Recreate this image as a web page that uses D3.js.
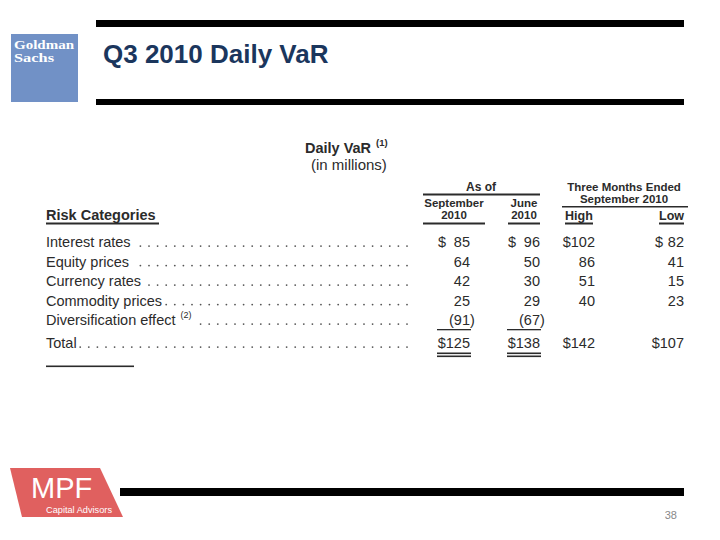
<!DOCTYPE html>
<html>
<head>
<meta charset="utf-8">
<script src="https://cdn.jsdelivr.net/npm/d3@7"></script>
<style>
html,body{margin:0;padding:0;background:#fff;}
svg{display:block;}
text{font-family:"Liberation Sans",Arial,Helvetica,sans-serif;}
</style>
</head>
<body>
<svg id="chart" width="720" height="540"></svg>
<script>
// ---- data ----
const title = "Q3 2010 Daily VaR";
const categories = ["Interest rates","Equity prices","Currency rates","Commodity prices","Diversification effect","Total"];
const footnoteMarks = [null,null,null,null,"(2)",null];
const seriesKeys = ["sep2010","jun2010","high","low"];
const sep2010 = [85,64,42,25,-91,125];
const jun2010 = [96,50,30,29,-67,138];
const high = [102,86,51,40,null,142];
const low = [82,41,15,23,null,107];
const pageNumber = "38";

const seriesValues = {sep2010, jun2010, high, low};

const svg = d3.select("#chart");
const ink = "#2b2b2b";

// ---- slide frame ----
svg.append("rect").attr("x",96).attr("y",20).attr("width",588).attr("height",7).attr("fill","#000");
svg.append("rect").attr("x",96).attr("y",99).attr("width",588).attr("height",6).attr("fill","#000");
svg.append("rect").attr("x",120).attr("y",488).attr("width",564).attr("height",8).attr("fill","#000");

// Goldman Sachs logo
svg.append("rect").attr("x",11).attr("y",34).attr("width",67).attr("height",68).attr("fill","#7191c6");
svg.append("text").attr("x",14).attr("y",48.5).attr("fill","#fff")
  .style("font-family","'Liberation Serif','DejaVu Serif',serif").style("font-weight","bold").style("font-size","13px")
  .attr("textLength",60).attr("lengthAdjust","spacingAndGlyphs").text("Goldman");
svg.append("text").attr("x",14).attr("y",62).attr("fill","#fff")
  .style("font-family","'Liberation Serif','DejaVu Serif',serif").style("font-weight","bold").style("font-size","12px")
  .attr("textLength",40).attr("lengthAdjust","spacingAndGlyphs").text("Sachs");

// title
svg.append("text").attr("x",103).attr("y",63).attr("fill","#1b365d")
  .style("font-weight","bold").style("font-size","26px").text(title);

// MPF logo
svg.append("path").attr("d","M10,468 L100,468 L123,517 L22,517 Z").attr("fill","#e0605f");
svg.append("text").attr("x",31).attr("y",498).attr("fill","#fff").style("font-size","29px").text("MPF");
svg.append("text").attr("x",46).attr("y",513).attr("fill","#fff").style("font-size","9px")
  .attr("textLength",66).attr("lengthAdjust","spacingAndGlyphs").text("Capital Advisors");

// page number
svg.append("text").attr("x",677).attr("y",519).attr("text-anchor","end").attr("fill","#888")
  .style("font-size","11px").text(pageNumber);

// ---- table header ----
const t = svg.append("g").attr("fill",ink);
t.append("text").attr("x",305).attr("y",153).style("font-weight","bold").style("font-size","14.5px").text("Daily VaR");
t.append("text").attr("x",376).attr("y",146).style("font-weight","bold").style("font-size","9.5px").text("(1)");
t.append("text").attr("x",311).attr("y",170).style("font-size","15px").text("(in millions)");

t.append("text").attr("x",481).attr("y",191).attr("text-anchor","middle").style("font-weight","bold").style("font-size","12px").text("As of");
t.append("rect").attr("x",423).attr("y",193.5).attr("width",117).attr("height",2);
t.append("text").attr("x",454).attr("y",207).attr("text-anchor","middle").style("font-weight","bold").style("font-size","11.5px").text("September");
t.append("text").attr("x",454).attr("y",219).attr("text-anchor","middle").style("font-weight","bold").style("font-size","11.5px").text("2010");
t.append("text").attr("x",524).attr("y",207).attr("text-anchor","middle").style("font-weight","bold").style("font-size","11.5px").text("June");
t.append("text").attr("x",524).attr("y",219).attr("text-anchor","middle").style("font-weight","bold").style("font-size","11.5px").text("2010");
t.append("rect").attr("x",423).attr("y",222.5).attr("width",62).attr("height",2);
t.append("rect").attr("x",508).attr("y",222.5).attr("width",32).attr("height",2);

t.append("text").attr("x",624).attr("y",191).attr("text-anchor","middle").style("font-weight","bold").style("font-size","11.5px").text("Three Months Ended");
t.append("text").attr("x",624).attr("y",203).attr("text-anchor","middle").style("font-weight","bold").style("font-size","11.5px").text("September 2010");
t.append("rect").attr("x",562).attr("y",206).attr("width",126).attr("height",1.5);
t.append("text").attr("x",565).attr("y",220).style("font-weight","bold").style("font-size","12.5px").text("High");
t.append("rect").attr("x",565).attr("y",222.5).attr("width",28).attr("height",2);
t.append("text").attr("x",684).attr("y",220).attr("text-anchor","end").style("font-weight","bold").style("font-size","12.5px").text("Low");
t.append("rect").attr("x",659).attr("y",222.5).attr("width",25).attr("height",2);

t.append("text").attr("x",46).attr("y",220).style("font-weight","bold").style("font-size","14.5px").text("Risk Categories");
t.append("rect").attr("x",46).attr("y",222.5).attr("width",113).attr("height",2);

// ---- rows ----
const y = d3.scalePoint().domain(categories).range([247, 344.5]);
const rowY = c => y(c) + (c === "Total" ? 3.5 : 0);

const colRight = d3.scaleOrdinal().domain(seriesKeys).range([470, 540, 595, 684]);
const colLeft = d3.scaleOrdinal().domain(seriesKeys).range([437, 507, 562, 654]);

const rows = t.selectAll("g.row").data(categories).join("g").attr("class","row")
  .attr("transform", c => `translate(0,${rowY(c)})`);

rows.append("text").attr("class","lbl").attr("x",46).attr("y",0).style("font-size","14.5px").text(c => c);

// footnote superscript + leader dots
const dotStep = 8.6, dotEnd = 407;
rows.each(function(c, i){
  const g = d3.select(this);
  let endX = 46 + g.select("text.lbl").node().getComputedTextLength();
  if (footnoteMarks[i]) {
    g.append("text").attr("x", endX + 5).attr("y",-7).style("font-size","9px").text(footnoteMarks[i]);
    endX += 5 + 14;
  }
  const dots = [];
  for (let x = dotEnd; x > endX + 3; x -= dotStep) dots.push(x);
  g.selectAll("circle").data(dots).join("circle")
    .attr("cx", d => d).attr("cy", -0.9).attr("r", 0.9).attr("fill", "#555");
});

// values
seriesKeys.forEach(key => {
  const vals = seriesValues[key];
  const right = colRight(key), left = colLeft(key);
  rows.each(function(c, i){
    const v = vals[i];
    if (v == null) return;
    const g = d3.select(this);
    const isFirst = i === 0, isTotal = c === "Total";
    if (v < 0) {
      g.append("text").attr("x", right).attr("y",0).attr("text-anchor","end").style("font-size","14.5px").text("(" + Math.abs(v));
      g.append("text").attr("x", right).attr("y",0).style("font-size","14.5px").text(")");
    } else if ((isFirst || isTotal) && String(v).length >= 3) {
      g.append("text").attr("x", right).attr("y",0).attr("text-anchor","end").style("font-size","14.5px").text("$" + v);
    } else {
      if (isFirst) g.append("text").attr("x", left + 1).attr("y",0).style("font-size","14.5px").text("$");
      g.append("text").attr("x", right).attr("y",0).attr("text-anchor","end").style("font-size","14.5px").text(v);
    }
  });
});

// underlines
["sep2010","jun2010"].forEach(key => {
  const l = colLeft(key), r = colRight(key) + 1;
  const yDiv = rowY("Diversification effect");
  t.append("rect").attr("x", l).attr("y", yDiv + 4).attr("width", r - l).attr("height", 1.3);
  const yTot = rowY("Total");
  t.append("rect").attr("x", l).attr("y", yTot + 4.5).attr("width", r - l).attr("height", 1.6);
  t.append("rect").attr("x", l).attr("y", yTot + 7.5).attr("width", r - l).attr("height", 1.6);
});

// footnote rule
t.append("rect").attr("x",46).attr("y",365.5).attr("width",88).attr("height",1.6);
</script>
</body>
</html>
